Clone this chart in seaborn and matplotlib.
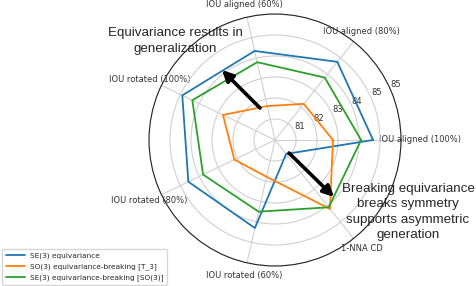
import numpy as np
import pandas as pd
import matplotlib
matplotlib.use("Agg")
import matplotlib.pyplot as plt
import seaborn as sns

# axes of the radar, counter-clockwise from the right
metrics = ["IOU aligned (100%)", "IOU aligned (80%)", "IOU aligned (60%)",
           "IOU rotated (100%)", "IOU rotated (80%)", "IOU rotated (60%)",
           "1-NNA CD"]

models = ["SE(3) equivariance",
          "SO(3) equivariance-breaking [T_3]",
          "SE(3) equivariance-breaking [SO(3)]"]

se3_equiv = [84.67, 84.76, 84.35, 84.90, 84.58, 84.30, 80.85]
so3_break = [82.76, 82.20, 81.66, 82.75, 82.15, 81.80, 84.20]
se3_break = [84.10, 83.80, 83.80, 84.37, 83.80, 83.50, 84.10]

rticks = [81, 82, 83, 84, 85, 86]
rtick_labels = ["81", "82", "83", "84", "85", "85"]

W, H = 476, 286
dpi = 100

angles = np.linspace(0, 2 * np.pi, len(metrics), endpoint=False)

rows = []
for name, vals in zip(models, [se3_equiv, so3_break, se3_break]):
    for a, v in zip(list(angles) + [2 * np.pi], vals + vals[:1]):
        rows.append({"theta": a, "value": v, "model": name})
df = pd.DataFrame(rows)

sns.set_style("white")
plt.rcParams["font.family"] = ["DejaVu Sans"]

fig = plt.figure(figsize=(W / dpi, H / dpi), dpi=dpi)


def px(x, y):
    return (x / W, 1 - y / H)


cx, cy, rad = 275, 140, 126
ax = fig.add_axes([(cx - rad) / W, 1 - (cy + rad) / H, 2 * rad / W, 2 * rad / H],
                  projection="polar")

sns.lineplot(data=df, x="theta", y="value", hue="model", sort=False,
             palette=["#1f77b4", "#ff7f0e", "#2ca02c"], linewidth=1.3,
             ax=ax, legend=True)

ax.set_ylim(80, 86)
ax.set_yticks(rticks)
ax.set_yticklabels(rtick_labels, fontsize=6, color="#333333")
ax.set_rlabel_position(24)
ax.set_xticks(angles)
ax.set_xticklabels(metrics, fontsize=6, color="#333333")
ax.tick_params(axis="x", pad=-1)
# the right-hand label sits a little further out in the original
ax.xaxis.get_major_ticks()[0].set_pad(3.2)
ax.set_xlabel("")
ax.set_ylabel("")
ax.grid(True, color="#d0d0d0", linewidth=0.8)
ax.spines["polar"].set_color("#222222")
ax.spines["polar"].set_linewidth(0.8)

handles, labels = ax.get_legend_handles_labels()
ax.get_legend().remove()
fig.legend(handles, labels, loc="lower left", bbox_to_anchor=(0.002, 0.0),
           fontsize=5.3, frameon=True, handlelength=2.6, borderpad=0.5,
           labelspacing=0.55, handletextpad=0.6, borderaxespad=0.2,
           edgecolor="#cccccc", fancybox=True)

arrow = dict(arrowstyle="-|>", color="black", lw=2.6, mutation_scale=16,
             shrinkA=0, shrinkB=0)
ax.annotate("", xy=px(222, 70), xytext=px(260, 108),
            xycoords="figure fraction", textcoords="figure fraction",
            arrowprops=arrow)
ax.annotate("", xy=px(334, 197), xytext=px(289, 153),
            xycoords="figure fraction", textcoords="figure fraction",
            arrowprops=arrow)

fig.text(*px(175, 41), "Equivariance results in\ngeneralization",
         ha="center", va="center", fontsize=9.6, family="Liberation Sans",
         linespacing=1.35)
fig.text(*px(408, 212), "Breaking equivariance\nbreaks symmetry\nsupports asymmetric\ngeneration",
         ha="center", va="center", fontsize=9.6, family="Liberation Sans",
         linespacing=1.35)

fig.savefig("out.png", dpi=dpi)
